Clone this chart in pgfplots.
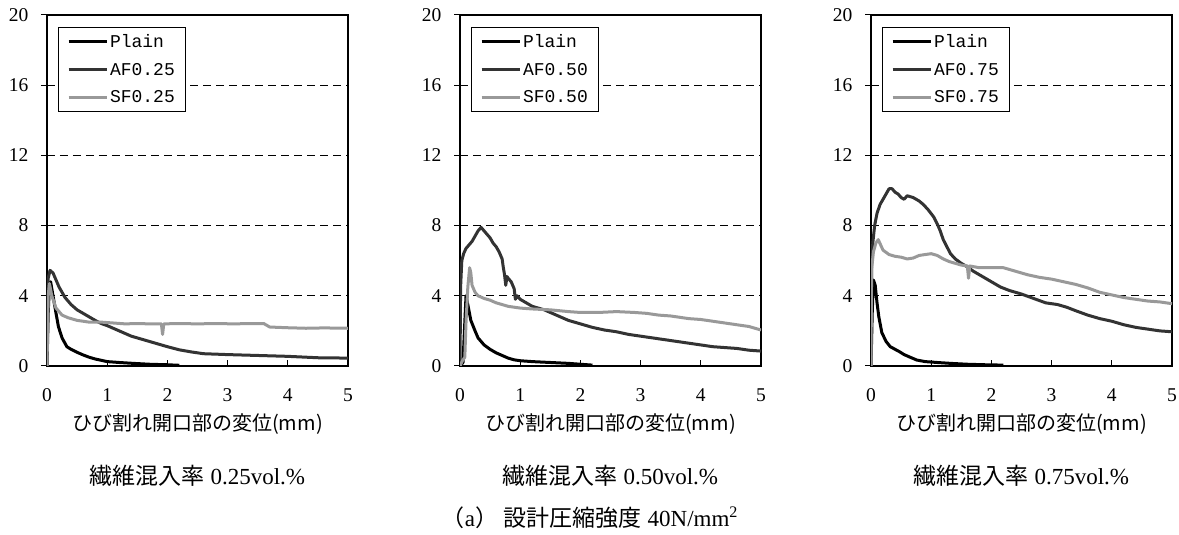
\documentclass[border=0pt]{standalone}
\usepackage{fontspec}
\setmainfont{Liberation Serif}
\newfontfamily\jp{Noto Sans CJK JP}
\newfontfamily\mono{Liberation Mono}
\usepackage{pgfplots}
\pgfplotsset{compat=1.18}
\definecolor{afc}{HTML}{333333}
\definecolor{sfc}{HTML}{999999}
\pgfplotsset{panel/.style={
  scale only axis, width=301pt, height=351pt, anchor=south west,
  clip mode=individual,
  xmin=0, xmax=5, ymin=0, ymax=20,
  xtick={0,1,2,3,4,5}, ytick={0,4,8,12,16,20},
  axis line style={line width=1.8pt},
  ymajorgrids, grid style={black, line width=1pt, dash pattern=on 8pt off 5pt},
  tick align=inside, tick pos=left,
  major tick length=6pt,
  ytick style={xshift=-6pt, line width=1pt, black},
  xtick style={line width=1pt, black},
  /pgf/number format/assume math mode=true,
  tick label style={font=\fontsize{19.5}{21}\selectfont},
  yticklabel style={xshift=-15pt},
  xticklabel style={yshift=-19pt},
  xlabel style={font=\jp\fontsize{20}{24}\selectfont, at={(axis description cs:0.5,0)}, anchor=center, yshift=-58pt},
  xlabel={ひび割れ開口部の変位(mm)},
  legend style={at={(0.035,0.966)}, anchor=north west, draw=black, line width=1pt,
    font=\mono\fontsize{18}{20}\selectfont, fill=white, inner xsep=9pt, inner ysep=5pt, row sep=10pt,
    /tikz/every odd column/.append style={column sep=0pt}},
  legend cell align=left,
  legend image code/.code={\draw[#1, line width=3pt] (0pt,0pt) -- (38pt,0pt);},
  every axis plot/.append style={line width=3pt, line join=round},
}}
\begin{document}
\begin{tikzpicture}
\path[use as bounding box] (0pt,0pt) rectangle (1179pt,535pt);
% ---------- Panel 1 ----------
\begin{axis}[panel, at={(47pt,169pt)}]
\addplot[black] coordinates {(0,0) (0.02,3.0) (0.04,4.6) (0.06,4.8) (0.1,4.0) (0.15,3.0) (0.19,2.24) (0.25,1.6) (0.33,1.1) (0.4,0.95) (0.5,0.78) (0.6,0.63) (0.7,0.5) (0.8,0.4) (0.88,0.34) (1.0,0.25) (1.2,0.2) (1.43,0.15) (1.7,0.1) (2.0,0.07) (2.2,0.04)};
\addlegendentry{Plain}
\addplot[afc] coordinates {(0,0) (0.02,5.0) (0.05,5.45) (0.1,5.3) (0.15,4.9) (0.2,4.5) (0.3,3.9) (0.4,3.5) (0.5,3.2) (0.6,3.0) (0.7,2.8) (0.8,2.6) (0.9,2.42) (1.0,2.3) (1.2,2.0) (1.4,1.7) (1.6,1.5) (1.8,1.3) (2.0,1.1) (2.2,0.92) (2.4,0.8) (2.6,0.7) (3.0,0.65) (3.5,0.6) (4.0,0.55) (4.5,0.47) (5.0,0.45)};
\addlegendentry{AF0.25}
\addplot[sfc] coordinates {(0,0) (0.02,4.0) (0.04,4.7) (0.08,4.0) (0.15,3.3) (0.25,2.9) (0.35,2.75) (0.5,2.6) (0.7,2.5) (0.9,2.5) (1.1,2.45) (1.3,2.4) (1.5,2.42) (1.7,2.4) (1.9,2.4) (1.92,1.8) (1.94,2.4) (2.2,2.42) (2.5,2.4) (2.8,2.42) (3.1,2.4) (3.4,2.42) (3.6,2.42) (3.7,2.22) (4.0,2.18) (4.3,2.15) (4.6,2.17) (5.0,2.15)};
\addlegendentry{SF0.25}
\node[font=\fontsize{23}{26}\selectfont, yshift=-110pt] at (rel axis cs:0.5,0) {{\jp 繊維混入率} 0.25vol.\%};
\end{axis}
% ---------- Panel 2 ----------
\begin{axis}[panel, at={(460pt,169pt)}]
\addplot[black] coordinates {(0,0) (0.05,0.2) (0.08,2.5) (0.1,4.0) (0.13,3.5) (0.18,2.6) (0.25,2.0) (0.3,1.6) (0.4,1.2) (0.5,0.95) (0.6,0.75) (0.7,0.6) (0.8,0.45) (0.9,0.35) (1.0,0.3) (1.2,0.25) (1.5,0.2) (1.8,0.15) (2.0,0.1) (2.2,0.05)};
\addlegendentry{Plain}
\addplot[afc] coordinates {(0,0) (0.01,4.5) (0.03,6.0) (0.06,6.4) (0.1,6.7) (0.15,6.9) (0.2,7.1) (0.25,7.4) (0.3,7.7) (0.35,7.9) (0.4,7.7) (0.45,7.5) (0.5,7.3) (0.55,7.0) (0.6,6.8) (0.65,6.5) (0.7,6.1) (0.72,5.6) (0.74,5.2) (0.76,4.6) (0.78,5.1) (0.8,5.0) (0.85,4.8) (0.9,4.4) (0.92,3.8) (0.95,4.0) (1.0,3.8) (1.1,3.6) (1.2,3.4) (1.3,3.3) (1.4,3.2) (1.5,3.05) (1.6,2.9) (1.7,2.75) (1.8,2.6) (2.0,2.4) (2.2,2.2) (2.4,2.05) (2.6,1.95) (2.8,1.8) (3.0,1.7) (3.2,1.6) (3.4,1.5) (3.6,1.4) (3.8,1.3) (4.0,1.2) (4.2,1.1) (4.4,1.05) (4.6,1.0) (4.8,0.9) (5.0,0.85)};
\addlegendentry{AF0.50}
\addplot[sfc] coordinates {(0,0) (0.04,0.3) (0.08,0.5) (0.1,2.5) (0.13,4.5) (0.16,5.6) (0.18,5.3) (0.2,4.6) (0.25,4.2) (0.3,4.0) (0.4,3.85) (0.5,3.75) (0.6,3.6) (0.7,3.5) (0.8,3.4) (0.9,3.35) (1.0,3.3) (1.2,3.25) (1.5,3.2) (1.8,3.1) (2.0,3.05) (2.3,3.05) (2.6,3.1) (2.9,3.05) (3.1,3.0) (3.3,2.9) (3.5,2.85) (3.8,2.7) (4.0,2.65) (4.3,2.5) (4.6,2.35) (4.8,2.25) (5.0,2.05)};
\addlegendentry{SF0.50}
\node[font=\fontsize{23}{26}\selectfont, yshift=-110pt] at (rel axis cs:0.5,0) {{\jp 繊維混入率} 0.50vol.\%};
\end{axis}
% ---------- Panel 3 ----------
\begin{axis}[panel, at={(871pt,169pt)}]
\addplot[black] coordinates {(0,0) (0.02,3.0) (0.04,4.9) (0.07,4.6) (0.1,3.6) (0.13,2.8) (0.18,1.9) (0.25,1.4) (0.32,1.1) (0.4,0.95) (0.47,0.82) (0.55,0.65) (0.65,0.5) (0.76,0.34) (0.9,0.25) (1.1,0.2) (1.32,0.15) (1.6,0.1) (1.9,0.07) (2.2,0.05)};
\addlegendentry{Plain}
\addplot[afc] coordinates {(0,0) (0.01,6.0) (0.03,7.0) (0.06,8.0) (0.1,8.7) (0.15,9.2) (0.2,9.5) (0.25,9.8) (0.3,10.1) (0.35,10.1) (0.4,9.9) (0.45,9.8) (0.5,9.6) (0.55,9.5) (0.6,9.7) (0.65,9.65) (0.7,9.6) (0.75,9.5) (0.8,9.4) (0.87,9.2) (0.95,8.9) (1.04,8.5) (1.1,8.1) (1.15,7.7) (1.2,7.2) (1.26,6.8) (1.32,6.4) (1.4,6.1) (1.5,5.85) (1.6,5.65) (1.7,5.4) (1.8,5.2) (1.9,5.0) (2.0,4.8) (2.15,4.5) (2.3,4.3) (2.5,4.1) (2.7,3.85) (2.9,3.6) (3.1,3.5) (3.25,3.35) (3.4,3.15) (3.6,2.9) (3.8,2.7) (4.0,2.55) (4.2,2.35) (4.4,2.2) (4.6,2.1) (4.8,2.0) (5.0,1.95)};
\addlegendentry{AF0.75}
\addplot[sfc] coordinates {(0,0) (0.01,5.5) (0.04,6.5) (0.08,7.0) (0.12,7.2) (0.16,6.9) (0.2,6.6) (0.3,6.35) (0.4,6.25) (0.5,6.2) (0.6,6.1) (0.7,6.15) (0.8,6.3) (0.9,6.35) (1.0,6.4) (1.1,6.3) (1.2,6.1) (1.3,5.95) (1.4,5.85) (1.5,5.75) (1.6,5.7) (1.62,5.0) (1.64,5.7) (1.8,5.6) (2.0,5.6) (2.2,5.6) (2.4,5.4) (2.6,5.2) (2.8,5.05) (3.0,4.95) (3.2,4.8) (3.4,4.65) (3.6,4.45) (3.8,4.2) (4.0,4.05) (4.2,3.9) (4.4,3.8) (4.6,3.7) (4.8,3.65) (5.0,3.55)};
\addlegendentry{SF0.75}
\node[font=\fontsize{23}{26}\selectfont, yshift=-110pt] at (rel axis cs:0.5,0) {{\jp 繊維混入率} 0.75vol.\%};
\end{axis}
\node[font=\fontsize{23}{26}\selectfont] at (590pt,17pt) {{\jp （}a{\jp ）} {\jp 設計圧縮強度} 40N/mm\textsuperscript{2}};
\end{tikzpicture}
\end{document}
